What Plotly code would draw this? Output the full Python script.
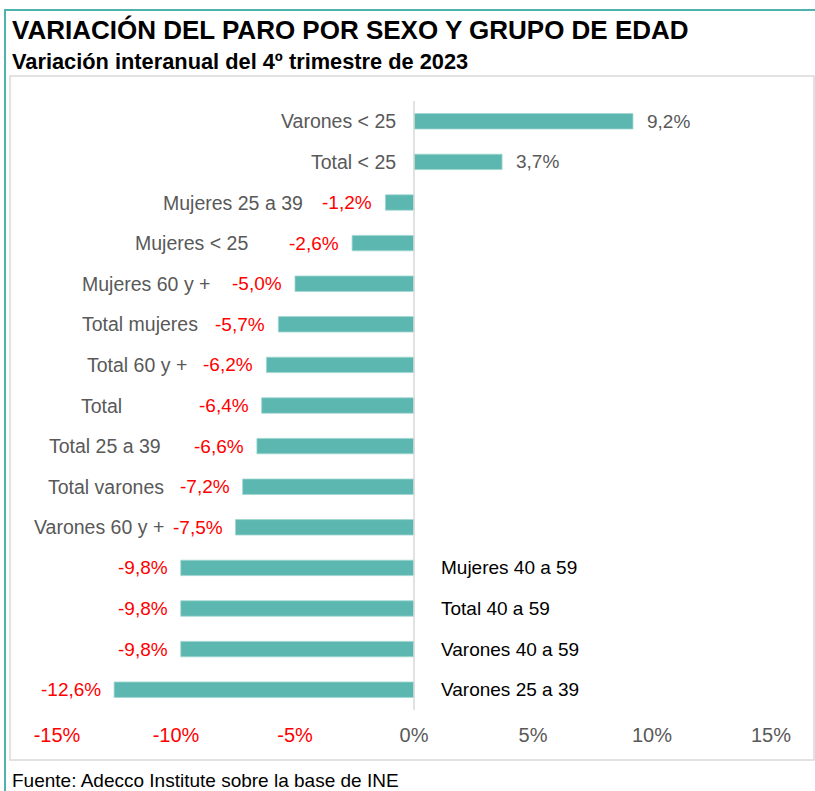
import plotly.graph_objects as go

# ---------------- data ----------------
categories = ["Varones < 25", "Total < 25", "Mujeres 25 a 39", "Mujeres < 25",
              "Mujeres 60 y +", "Total mujeres", "Total 60 y +", "Total",
              "Total 25 a 39", "Total varones", "Varones 60 y +",
              "Mujeres  40 a 59", "Total  40 a 59", "Varones  40 a 59", "Varones  25 a 39"]
values = [9.2, 3.7, -1.2, -2.6, -5.0, -5.7, -6.2, -6.4, -6.6, -7.2, -7.5,
          -9.8, -9.8, -9.8, -12.6]
value_text = ["9,2%", "3,7%", "-1,2%", "-2,6%", "-5,0%", "-5,7%", "-6,2%", "-6,4%",
              "-6,6%", "-7,2%", "-7,5%", "-9,8%", "-9,8%", "-9,8%", "-12,6%"]
tick_vals = [-15, -10, -5, 0, 5, 10, 15]
tick_text = ["-15%", "-10%", "-5%", "0%", "5%", "10%", "15%"]

# label placement (in axis units) - layout, not data
label_x = [-0.69, -0.69, -4.6, -6.9, -8.5, -9.0, -9.47, -12.2, -10.56, -10.4, -10.4,
           1.05, 1.05, 1.05, 1.05]
label_side = ["right"] * 11 + ["left"] * 4

# ---------------- layout geometry ----------------
FW, FH = 815, 791
L, T, W, H = 57, 101, 714, 609


def px(x):
    return (x - L) / W


def py(y):
    return (T + H - y) / H


FONT = "Arial, 'Liberation Sans', sans-serif"
TEAL = "#5BB7B0"
GRAY = "#595959"
RED = "#FF0000"

fig = go.Figure()
fig.add_trace(go.Bar(
    x=values, y=categories, orientation="h",
    marker=dict(color=TEAL, line=dict(color="#9ed6d1", width=0.8)),
    hoverinfo="x+y", showlegend=False,
))

annotations = []
# category labels
for cat, lx, side in zip(categories, label_x, label_side):
    annotations.append(dict(
        x=lx, y=cat, xref="x", yref="y", text=cat.replace("  ", "&nbsp;"),
        showarrow=False, xanchor="right" if side == "right" else "left",
        font=dict(family=FONT, size=19.5 if side == "right" else 19,
                  color=GRAY if side == "right" else "#000000"),
    ))
# value labels
for cat, v, t in zip(categories, values, value_text):
    annotations.append(dict(
        x=v, y=cat, xref="x", yref="y", text=t, showarrow=False,
        xanchor="right" if v < 0 else "left", xshift=-11 if v < 0 else 12,
        font=dict(family=FONT, size=19, color=RED if v < 0 else GRAY),
    ))
# title, subtitle, source
annotations.append(dict(x=px(10), y=py(30), xref="paper", yref="paper",
                        text="<b>VARIACIÓN DEL PARO POR SEXO Y GRUPO DE EDAD</b>",
                        showarrow=False, xanchor="left", yanchor="middle",
                        font=dict(family=FONT, size=26, color="#000000")))
annotations.append(dict(x=px(10), y=py(62), xref="paper", yref="paper",
                        text="<b>Variación interanual del 4º trimestre de 2023</b>",
                        showarrow=False, xanchor="left", yanchor="middle",
                        font=dict(family=FONT, size=21.8, color="#000000")))
annotations.append(dict(x=px(10), y=py(780), xref="paper", yref="paper",
                        text="Fuente: Adecco Institute sobre la base de INE",
                        showarrow=False, xanchor="left", yanchor="middle",
                        font=dict(family=FONT, size=19, color="#000000")))

shapes = [
    # inner gray chart frame
    dict(type="rect", xref="paper", yref="paper", x0=px(10), x1=px(814),
         y0=py(760), y1=py(76), line=dict(color="#D9D9D9", width=1.5)),
    # outer teal frame (top and left)
    dict(type="line", xref="paper", yref="paper", x0=px(4), x1=px(815),
         y0=py(10), y1=py(10), line=dict(color="#4FB3AD", width=2)),
    dict(type="line", xref="paper", yref="paper", x0=px(5), x1=px(5),
         y0=py(10), y1=py(791), line=dict(color="#4FB3AD", width=2)),
    # zero line
    dict(type="line", xref="x", yref="paper", x0=0, x1=0, y0=0, y1=1,
         line=dict(color="#D9D9D9", width=1.5), layer="above"),
]

colored_ticks = [f"<span style='color:{RED if v < 0 else GRAY}'>{t}</span>"
                 for v, t in zip(tick_vals, tick_text)]

fig.update_layout(
    width=FW, height=FH,
    margin=dict(l=L, r=FW - L - W, t=T, b=FH - T - H),
    paper_bgcolor="white", plot_bgcolor="white",
    bargap=0.62,
    xaxis=dict(range=[-15, 15], tickvals=tick_vals, ticktext=colored_ticks,
               showgrid=False, zeroline=False, showline=False,
               ticks="outside", ticklen=7, tickcolor="rgba(0,0,0,0)",
               tickfont=dict(family=FONT, size=20, color=GRAY), fixedrange=True),
    yaxis=dict(categoryorder="array", categoryarray=categories[::-1],
               showticklabels=False, showgrid=False, zeroline=False,
               showline=False, ticks="", fixedrange=True),
    annotations=annotations, shapes=shapes,
    font=dict(family=FONT),
)

fig.write_html("out.html", config={"displayModeBar": False},
               post_script="document.body.style.margin='0px';"
                           "document.body.style.overflow='hidden';")
